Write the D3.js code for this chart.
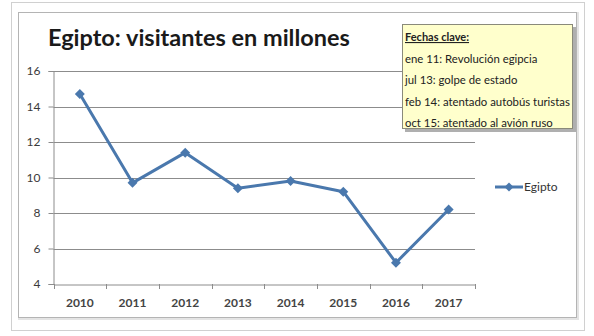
<!DOCTYPE html>
<html><head><meta charset="utf-8">
<script src="https://cdn.jsdelivr.net/npm/d3@7"></script>
<style>
html,body{margin:0;padding:0;background:#fff;}
svg{display:block;font-family:Lato,"Open Sans",sans-serif;}
</style></head>
<body>
<svg id="c" width="594" height="336"></svg>
<script>
const years = ["2010","2011","2012","2013","2014","2015","2016","2017"];
const visitors = [14.7, 9.7, 11.4, 9.4, 9.8, 9.2, 5.2, 8.2];
const yTicks = [4, 6, 8, 10, 12, 14, 16];
const title = "Egipto: visitantes en millones";
const seriesName = "Egipto";
const notesTitle = "Fechas clave:";
const notes = ["ene 11: Revolución egipcia","jul 13: golpe de estado","feb 14: atentado autobús turistas","oct 15: atentado al avión ruso"];

const svg = d3.select("#c");
const blue = "#4a78ad";

// frames
svg.append("rect").attr("x",11.5).attr("y",2.5).attr("width",573).attr("height",328)
  .attr("fill","#fff").attr("stroke","#d0d0d0");
svg.append("rect").attr("x",19).attr("y",13).attr("width",559).attr("height",306)
  .attr("fill","none").attr("stroke","#e4e4e4").attr("stroke-width",2);
svg.append("rect").attr("x",18.5).attr("y",12.5).attr("width",558).attr("height",305)
  .attr("fill","#fff").attr("stroke","#b4b4b4");

const x = d3.scaleBand().domain(years).range([53.5,475]);
const y = d3.scaleLinear().domain([4,16]).range([284,71]);

// gridlines
svg.append("g").selectAll("line").data(yTicks.filter(d=>d>4)).join("line")
  .attr("x1",53.5).attr("x2",475).attr("y1",d=>Math.round(y(d))+0.5).attr("y2",d=>Math.round(y(d))+0.5)
  .attr("stroke","#8c8c8c").attr("stroke-width",1);

// y axis
const ya = svg.append("g").attr("transform","translate(53.5,0)")
  .call(d3.axisLeft(y).tickValues(yTicks).tickSize(5).tickPadding(8).tickFormat(d3.format("d")));
ya.select(".domain").attr("stroke","#8c8c8c");
ya.selectAll(".tick line").attr("stroke","#8c8c8c");
ya.selectAll("text").attr("font-size",12).attr("fill","#3a3a3a").attr("font-family","Lato");

// x axis
const xa = svg.append("g").attr("transform","translate(0,284.5)")
  .call(d3.axisBottom(x).tickSize(0).tickPadding(14));
xa.select(".domain").attr("stroke","#8c8c8c");
xa.selectAll("text").attr("font-size",12).attr("fill","#444").attr("font-family","Lato").attr("font-weight","bold");
// tick marks at band boundaries
svg.append("g").selectAll("line").data(years.concat(["end"])).join("line")
  .attr("x1",(d,i)=>Math.round(x.range()[0]+i*x.step())+0.5)
  .attr("x2",(d,i)=>Math.round(x.range()[0]+i*x.step())+0.5)
  .attr("y1",284).attr("y2",289).attr("stroke","#8c8c8c");

// line
const pts = years.map((yr,i)=>[x(yr)+x.bandwidth()/2, y(visitors[i])]);
svg.append("path").attr("d",d3.line()(pts)).attr("fill","none")
  .attr("stroke",blue).attr("stroke-width",3).attr("stroke-linejoin","round");
svg.append("g").selectAll("path").data(pts).join("path")
  .attr("d",d3.symbol(d3.symbolSquare,50))
  .attr("transform",d=>`translate(${d[0]},${d[1]}) rotate(45)`).attr("fill",blue);

// title
const t = svg.append("text").attr("x",48).attr("y",46).text(title)
  .attr("font-family","Lato").attr("font-weight","bold").attr("font-size",23).attr("fill","#1a1a1a");
const tw = t.node().getComputedTextLength();
t.attr("font-size",23*302/tw);

// legend
const lg = svg.append("g");
lg.append("line").attr("x1",495).attr("x2",523).attr("y1",187).attr("y2",187).attr("stroke",blue).attr("stroke-width",3);
lg.append("path").attr("d",d3.symbol(d3.symbolSquare,40)).attr("transform","translate(509,187) rotate(45)").attr("fill",blue);
lg.append("text").attr("x",524).attr("y",191).text(seriesName).attr("font-size",12).attr("fill","#333");

// notes box
const nb = svg.append("g");
nb.append("rect").attr("x",405).attr("y",27).attr("width",171).attr("height",105).attr("fill","#7a7a7a").attr("opacity",0.6);
nb.append("rect").attr("x",402.5).attr("y",24.5).attr("width",170).attr("height",104)
  .attr("fill","#ffffcc").attr("stroke","#8a8a7a");
nb.append("text").attr("x",405).attr("y",41).text(notesTitle)
  .attr("font-size",11).attr("font-weight","bold").attr("text-decoration","underline").attr("fill","#222");
const nt = nb.selectAll("text.n").data(notes).join("text").attr("class","n")
  .attr("x",405).attr("y",(d,i)=>63+i*21.3).text(d=>d)
  .attr("font-size",11).attr("fill","#222");
// fit longest note to box width
const longest = d3.max(nt.nodes(), n=>n.getComputedTextLength());
const fs = Math.min(11.6, 11*165/longest);
nt.attr("font-size",fs);
</script>
</body></html>
